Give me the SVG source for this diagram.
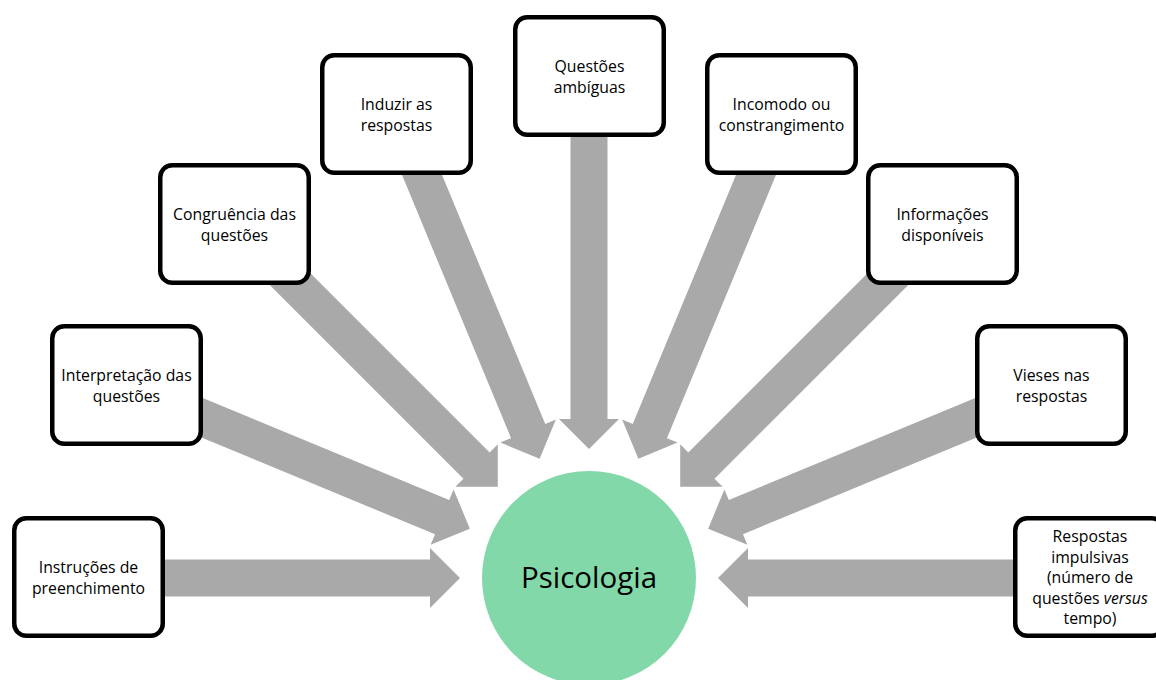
<svg xmlns="http://www.w3.org/2000/svg" xmlns:xlink="http://www.w3.org/1999/xlink" width="1156" height="680" viewBox="0 0 1156 680">
  <style>
    .box { fill: #ffffff; stroke: #000000; stroke-width: 4.5; }
    .lbl { font-family: "Open Sans", "Noto Sans", "Liberation Sans", sans-serif; font-size: 15.8px; fill: #000000; text-anchor: middle; }
    .hub { fill: #82D8A9; }
    .hub-lbl { font-family: "Open Sans", "Noto Sans", "Liberation Sans", sans-serif; font-size: 29.5px; fill: #000000; text-anchor: middle; }
    .arrow { fill: #A9A9A9; }
  </style>
  <defs>
    <!-- block arrow in hub-centred coordinates: tail on the left, tip 129px short of the hub centre -->
    <path id="blockArrow" class="arrow" d="M-450,-18.5 L-159,-18.5 L-159,-30 L-129,0 L-159,30 L-159,18.5 L-450,18.5 Z"/>
  </defs>
  <rect width="1156" height="680" fill="#ffffff"/>

  <!-- connectors: nine arrows fanned at 22.5 degree steps toward the hub -->
  <g id="connectors">
    <use xlink:href="#blockArrow" transform="translate(589,578) rotate(0)"/>
    <use xlink:href="#blockArrow" transform="translate(589,578) rotate(22.5)"/>
    <use xlink:href="#blockArrow" transform="translate(589,578) rotate(45)"/>
    <use xlink:href="#blockArrow" transform="translate(589,578) rotate(67.5)"/>
    <use xlink:href="#blockArrow" transform="translate(589,578) rotate(90)"/>
    <use xlink:href="#blockArrow" transform="translate(589,578) rotate(112.5)"/>
    <use xlink:href="#blockArrow" transform="translate(589,578) rotate(135)"/>
    <use xlink:href="#blockArrow" transform="translate(589,578) rotate(157.5)"/>
    <use xlink:href="#blockArrow" transform="translate(589,578) rotate(180)"/>
  </g>

  <!-- hub -->
  <g id="psicologia">
    <circle class="hub" cx="589" cy="578" r="107"/>
    <text class="hub-lbl" x="589" y="588">Psicologia</text>
  </g>

  <!-- factor boxes -->
  <g id="instrucoes">
    <rect class="box" x="14.25" y="518.25" width="148.5" height="117.5" rx="12"/>
    <text class="lbl" x="88.5" y="573">Instruções de</text>
    <text class="lbl" x="88.5" y="593.5">preenchimento</text>
  </g>
  <g id="interpretacao">
    <rect class="box" x="52.25" y="326.25" width="148.5" height="117.5" rx="12"/>
    <text class="lbl" x="126.5" y="381">Interpretação das</text>
    <text class="lbl" x="126.5" y="401.5">questões</text>
  </g>
  <g id="congruencia">
    <rect class="box" x="160.25" y="165.25" width="148.5" height="117.5" rx="12"/>
    <text class="lbl" x="234.5" y="220">Congruência das</text>
    <text class="lbl" x="234.5" y="240.5">questões</text>
  </g>
  <g id="induzir">
    <rect class="box" x="322.25" y="55.25" width="148.5" height="117.5" rx="12"/>
    <text class="lbl" x="396.5" y="110">Induzir as</text>
    <text class="lbl" x="396.5" y="130.5">respostas</text>
  </g>
  <g id="ambiguas">
    <rect class="box" x="515.25" y="17.25" width="148.5" height="117.5" rx="12"/>
    <text class="lbl" x="589.5" y="72">Questões</text>
    <text class="lbl" x="589.5" y="92.5">ambíguas</text>
  </g>
  <g id="incomodo">
    <rect class="box" x="707.25" y="55.25" width="148.5" height="117.5" rx="12"/>
    <text class="lbl" x="781.5" y="110">Incomodo ou</text>
    <text class="lbl" x="781.5" y="130.5">constrangimento</text>
  </g>
  <g id="informacoes">
    <rect class="box" x="868.25" y="165.25" width="148.5" height="117.5" rx="12"/>
    <text class="lbl" x="942.5" y="220">Informações</text>
    <text class="lbl" x="942.5" y="240.5">disponíveis</text>
  </g>
  <g id="vieses">
    <rect class="box" x="977.25" y="326.25" width="148.5" height="117.5" rx="12"/>
    <text class="lbl" x="1051.5" y="381">Vieses nas</text>
    <text class="lbl" x="1051.5" y="401.5">respostas</text>
  </g>
  <g id="impulsivas">
    <rect class="box" x="1015.25" y="518.25" width="148.5" height="117.5" rx="12"/>
    <text class="lbl" x="1090" y="542">Respostas</text>
    <text class="lbl" x="1090" y="562.5">impulsivas</text>
    <text class="lbl" x="1090" y="583">(número de</text>
    <text class="lbl" x="1090" y="603.5">questões <tspan font-style="italic">versus</tspan></text>
    <text class="lbl" x="1090" y="624">tempo)</text>
  </g>
</svg>
